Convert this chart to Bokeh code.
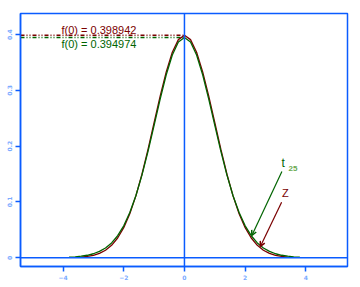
from bokeh.plotting import figure
from bokeh.models import Range1d, FixedTicker, Arrow, OpenHead, Label, Span
from bokeh.embed import file_html
from bokeh.resources import INLINE

# Standard normal density
z_x = [-3.4, -3.2, -3.0, -2.8, -2.6, -2.4, -2.2, -2.0, -1.8, -1.6, -1.4, -1.2, -1.0, -0.8, -0.6, -0.4, -0.2,
       0.0, 0.2, 0.4, 0.6, 0.8, 1.0, 1.2, 1.4, 1.6, 1.8, 2.0, 2.2, 2.4, 2.6, 2.8, 3.0, 3.2, 3.4]
z_y = [0.0012, 0.0024, 0.0044, 0.0079, 0.0136, 0.0224, 0.0355, 0.0540, 0.0790, 0.1109, 0.1497, 0.1942,
       0.2420, 0.2897, 0.3332, 0.3683, 0.3910, 0.3989, 0.3910, 0.3683, 0.3332, 0.2897, 0.2420, 0.1942,
       0.1497, 0.1109, 0.0790, 0.0540, 0.0355, 0.0224, 0.0136, 0.0079, 0.0044, 0.0024, 0.0012]

# t distribution, 25 df
t_x = [-3.8, -3.6, -3.4, -3.2, -3.0, -2.8, -2.6, -2.4, -2.2, -2.0, -1.8, -1.6, -1.4, -1.2, -1.0, -0.8, -0.6,
       -0.4, -0.2, 0.0, 0.2, 0.4, 0.6, 0.8, 1.0, 1.2, 1.4, 1.6, 1.8, 2.0, 2.2, 2.4, 2.6, 2.8, 3.0, 3.2,
       3.4, 3.6, 3.8]
t_y = [0.00105, 0.00173, 0.00282, 0.00455, 0.00725, 0.01139, 0.01760, 0.02667, 0.03958, 0.05736, 0.08101,
       0.11121, 0.14806, 0.19072, 0.23721, 0.28436, 0.32798, 0.36354, 0.38685, 0.394974, 0.38685, 0.36354,
       0.32798, 0.28436, 0.23721, 0.19072, 0.14806, 0.11121, 0.08101, 0.05736, 0.03958, 0.02667, 0.01760,
       0.01139, 0.00725, 0.00455, 0.00282, 0.00173, 0.00105]

f0_z = 0.398942
f0_t = 0.394974
x_ticks = [-4, -2, 0, 2, 4]
y_ticks = [0.0, 0.1, 0.2, 0.3, 0.4]

RED = "#7a0000"
GREEN = "#006400"
BLUE = "#0a5cff"
LBLUE = "#7aaaff"

p = figure(width=360, height=287, output_backend="svg", toolbar_location=None,
           x_range=Range1d(-5.4, 5.37), y_range=Range1d(-0.0156, 0.4378),
           min_border_left=20, min_border_right=13, min_border_top=13, min_border_bottom=21)
p.background_fill_color = "white"
p.border_fill_color = "white"
p.outline_line_color = BLUE
p.outline_line_width = 1.5
p.xgrid.visible = False
p.ygrid.visible = False

for ax in (p.xaxis[0], p.yaxis[0]):
    ax.axis_line_color = BLUE
    ax.axis_line_width = 1.5
    ax.major_tick_line_color = BLUE
    ax.major_tick_line_width = 1.5
    ax.major_tick_in = 0
    ax.major_tick_out = 5
    ax.minor_tick_line_color = None
    ax.major_label_text_color = LBLUE
    ax.major_label_text_font = "DejaVu Sans"
    ax.major_label_text_font_size = "6px"
    ax.major_label_text_font_style = "bold"
    ax.major_label_standoff = 3
p.xaxis.ticker = FixedTicker(ticks=x_ticks)
p.yaxis.ticker = FixedTicker(ticks=y_ticks)
p.yaxis.major_label_orientation = "vertical"

p.add_layout(Span(location=0, dimension="width", line_color=BLUE, line_width=1.5))
p.add_layout(Span(location=0, dimension="height", line_color=BLUE, line_width=1.5))

p.line([-5.4, 0], [f0_z, f0_z], line_color=RED, line_width=1.5, line_dash="4 2 1 2 1 2")
p.line([-5.4, 0], [f0_t, f0_t], line_color=GREEN, line_width=1.5, line_dash="4 2 1 2 1 2")

p.line(z_x, z_y, line_color=RED, line_width=1.3)
p.line(t_x, t_y, line_color=GREEN, line_width=1.3)

p.add_layout(Label(x=-4.05, y=0.409, text="f(0) = 0.398942", text_color=RED,
                   text_font="Liberation Sans", text_font_size="11px", text_baseline="middle"))
p.add_layout(Label(x=-4.05, y=0.384, text="f(0) = 0.394974", text_color=GREEN,
                   text_font="Liberation Sans", text_font_size="11px", text_baseline="middle"))

p.add_layout(Arrow(end=OpenHead(size=5, line_color=RED, line_width=1.5),
                   x_start=3.2, y_start=0.0996, x_end=2.5, y_end=0.0203,
                   line_color=RED, line_width=1.2))
p.add_layout(Arrow(end=OpenHead(size=5, line_color=GREEN, line_width=1.5),
                   x_start=3.21, y_start=0.1547, x_end=2.22, y_end=0.040,
                   line_color=GREEN, line_width=1.2))

p.add_layout(Label(x=3.32, y=0.1165, text="Z", text_color=RED, text_font="Liberation Sans",
                   text_font_size="11px", text_baseline="middle", text_align="center"))
p.add_layout(Label(x=3.25, y=0.1695, text="t", text_color=GREEN, text_font="Liberation Sans",
                   text_font_size="12px", text_baseline="middle", text_align="center"))
p.add_layout(Label(x=3.43, y=0.1595, text="25", text_color="#6aaa50", text_font="Liberation Sans",
                   text_font_size="8px", text_baseline="middle", text_font_style="bold"))

open("out.html", "w").write(file_html(p, INLINE))
